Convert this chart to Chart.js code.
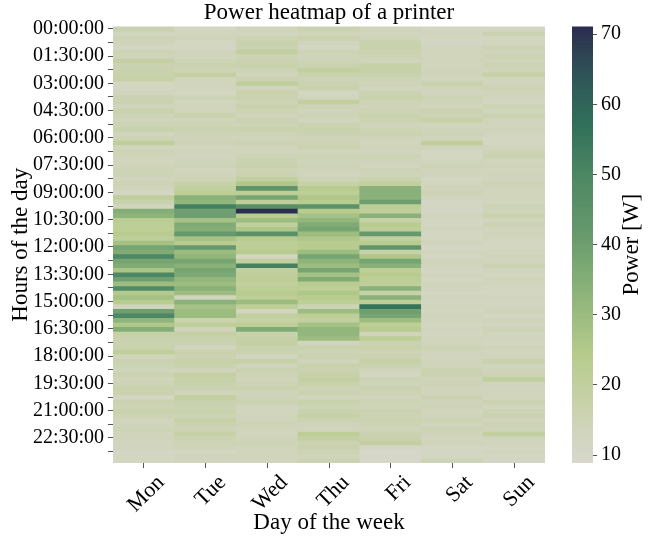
<!DOCTYPE html>
<html>
<head>
<meta charset="utf-8">
<script src="https://cdn.jsdelivr.net/npm/chart.js@4.4.1/dist/chart.umd.min.js"></script>
<style>
  html, body { margin: 0; padding: 0; background: #fff; }
  #wrap { position: relative; width: 648px; height: 540px; }
  canvas { position: absolute; left: 0; top: 0; }
</style>
</head>
<body>
<div id="wrap">
  <canvas id="heat" width="648" height="540"></canvas>
  <canvas id="cbar" width="648" height="540"></canvas>
</div>
<script>
// categories
const days = ["Mon", "Tue", "Wed", "Thu", "Fri", "Sat", "Sun"];
// labels shown on the y axis (one every 6 rows of 15 min)
const timeLabels = ["00:00:00", "01:30:00", "03:00:00", "04:30:00", "06:00:00", "07:30:00",
  "09:00:00", "10:30:00", "12:00:00", "13:30:00", "15:00:00", "16:30:00",
  "18:00:00", "19:30:00", "21:00:00", "22:30:00"];
const colorbarTicks = [10, 20, 30, 40, 50, 60, 70];
const powerMin = 8.86;
const powerMax = 71.1;

// power [W] per 15 min slot, one array per day (96 rows)
const mon = [16,13,15,14,12,15,14,19,16,17, 17,18,12,12,13,16,16,14,17,15,
  14,15,17,13,15,21,13,15,14,13, 14,15,15,13,15,14,12,21,17,13,
  35,33,23,22,22,24,21,28,
  38,36,50,38,36,27,50,40,30,48, 25,28,24,14,40,50,33,26,35,18,
  17,16,17,21,14,16,15,14,16,14, 15,17,16,12,16,15,17,15,13,14,
  15,14,14,13,13,11,12,12];
const tue = [12,13,14,12,11,14,13,15,16,15, 19,14,13,13,12,15,13,14,14,17,
  14,15,16,15,14,15,13,14,13,14, 15,13,14,15,18,20,22,34,32,52,
  40,40,28,36,35,42,28,24,
  42,30,32,38,34,38,37,32,30,34, 30,14,34,28,30,30,16,22,14,19,
  17,16,13,17,16,18,17,14,19,18, 17,16,14,20,17,16,17,15,18,16,
  15,18,16,15,14,12,14,13];
const wed = [14,13,15,17,16,20,15,16,17,15, 14,16,21,14,17,16,15,17,15,14,
  16,15,17,15,14,16,13,14,15,16, 17,15,16,20,26,44,22,38,22,46,
  71,24,30,20,26,46,24,22,
  22,24,12,20,52,20,21,22,20,22, 24,22,30,22,13,20,18,22,36,17,
  18,19,17,16,13,18,14,16,15,14, 15,16,14,15,16,13,13,14,14,15,
  14,13,14,15,13,14,13,13];
const thu = [16,14,17,13,12,15,14,15,16,20, 17,15,16,17,12,13,20,15,14,15,
  13,16,17,16,14,15,16,13,15,14, 15,14,13,15,18,24,22,26,24,45,
  24,28,32,36,38,30,26,24,
  24,30,38,33,30,38,28,36,24,22, 26,24,22,15,30,22,20,28,32,32,
  30,13,17,15,16,14,17,16,18,19, 17,15,16,13,17,15,17,18,16,14,
  13,22,19,16,17,15,14,16];
const fri = [14,13,14,17,17,16,15,14,18,18, 17,15,14,13,16,17,15,14,15,17,
  16,14,15,16,14,13,14,13,15,14, 13,15,14,17,20,34,34,34,40,22,
  21,34,18,24,22,42,20,24,
  44,18,26,38,34,22,24,22,21,34, 18,34,22,56,40,38,30,22,24,14,
  22,16,17,15,16,18,16,14,12,15, 14,16,15,13,15,14,16,15,16,15,
  14,16,17,19,11,10,10,10];
const sat = [12,13,12,11,13,14,13,14,13,14, 14,13,17,14,13,15,14,13,16,15,
  18,13,14,15,14,21,14,12,12,13, 15,14,14,12,13,14,15,13,11,12,
  11,13,12,11,13,12,12,14,
  11,13,12,14,13,11,13,12,14,13, 12,13,12,13,12,14,13,12,13,12,
  14,13,15,14,13,14,14,16,16,14, 15,13,14,16,14,15,13,14,15,13,
  15,14,13,14,12,11,12,15];
const sun = [12,16,12,13,15,14,15,14,15,14, 18,13,14,15,14,13,12,15,13,16,
  14,13,14,13,12,12,13,15,16,13, 14,13,14,13,15,14,13,14,13,15,
  14,17,13,15,13,14,13,12,
  12,13,14,13,16,13,12,14,13,12, 12,13,12,13,14,12,14,13,15,13,
  13,12,14,13,14,17,13,14,15,20, 14,13,14,13,16,13,15,16,14,15,
  14,20,14,13,12,13,12,11];
const week = [mon, tue, wed, thu, fri, sat, sun];

//* colour map (light grey -> yellow green -> green -> navy)
const cmapStops = [
  [8.86, "#d8d8cc"], [14, "#cfd4ba"], [19, "#c4d0a3"], [24, "#b8cc8f"],
  [30, "#9cbc80"], [36, "#80ab75"], [42, "#66986d"], [50, "#4d8763"],
  [57, "#32705a"], [63, "#2f5a58"], [67, "#2f4554"], [71.1, "#2c2c4f"],
];
function hexRgb(h) {
  return [1, 3, 5].map((i) => parseInt(h.substr(i, 2), 16));
}
function colorFor(v) {
  if (v <= cmapStops[0][0]) return cmapStops[0][1];
  for (let i = 1; i < cmapStops.length; i++) {
    if (v <= cmapStops[i][0]) {
      const a = cmapStops[i - 1], b = cmapStops[i];
      const t = (v - a[0]) / (b[0] - a[0]);
      const ca = hexRgb(a[1]), cb = hexRgb(b[1]);
      const c = ca.map((x, k) => Math.round(x + (cb[k] - x) * t));
      return `rgb(${c[0]},${c[1]},${c[2]})`;
    }
  }
  return cmapStops[cmapStops.length - 1][1];
}

const serif = "'Liberation Serif', 'DejaVu Serif', serif";
const rowCount = mon.length;

//* one stacked dataset per time row, coloured by the power of each day
const heatDatasets = [];
for (let r = 0; r < rowCount; r++) {
  heatDatasets.push({
    data: days.map(() => 1),
    backgroundColor: week.map((d) => colorFor(d[r])),
    borderWidth: 0,
    inflateAmount: 0.5,
    categoryPercentage: 1,
    barPercentage: 1,
  });
}

// ticks every 3 rows, at the row centre
const yTickRows = [];
for (let r = 0; r < rowCount; r += 3) yTickRows.push(r + 0.5);

new Chart(document.getElementById("heat"), {
  type: "bar",
  data: { labels: days, datasets: heatDatasets },
  options: {
    responsive: false,
    animation: false,
    events: [],
    layout: { padding: { left: 0, right: 103, top: 0, bottom: 0 } },
    plugins: {
      legend: { display: false },
      tooltip: { enabled: false },
      title: {
        display: true,
        text: "Power heatmap of a printer",
        fullSize: false,
        color: "#000",
        font: { family: serif, size: 23, weight: "normal", lineHeight: 1.15 },
        padding: { top: 0, bottom: 0 },
      },
    },
    scales: {
      x: {
        stacked: true,
        border: { display: false },
        grid: { drawOnChartArea: false, offset: false, tickLength: 5, tickColor: "#555", tickWidth: 1 },
        ticks: {
          color: "#000",
          font: { family: serif, size: 22 },
          minRotation: 45,
          maxRotation: 45,
          labelOffset: 17,
          padding: 2,
        },
        title: {
          display: true,
          text: "Day of the week",
          color: "#000",
          font: { family: serif, size: 23 },
          padding: { top: 0, bottom: 3 },
        },
        afterFit: (s) => { s.height = 77; },
      },
      y: {
        stacked: true,
        reverse: true,
        min: 0,
        max: rowCount,
        border: { display: false },
        grid: { drawOnChartArea: false, tickLength: 5, tickColor: "#555", tickWidth: 1 },
        afterBuildTicks: (s) => { s.ticks = yTickRows.map((v) => ({ value: v })); },
        ticks: {
          autoSkip: false,
          color: "#000",
          padding: 4,
          font: { family: serif, size: 20 },
          callback: (v, i) => (i % 2 === 0 ? timeLabels[i / 2] : ""),
        },
        title: {
          display: true,
          text: "Hours of the day",
          color: "#000",
          font: { family: serif, size: 23 },
          padding: { top: 7, bottom: 0 },
        },
        afterFit: (s) => { s.width = 113; },
      },
    },
  },
});

//* colour bar
const cbStep = 0.25;
const cbSteps = [];
for (let v = powerMin; v < powerMax; v += cbStep) cbSteps.push(v);

const cbTitle = {
  id: "cbTitle",
  afterDraw(chart) {
    const { ctx, chartArea } = chart;
    ctx.save();
    ctx.translate(632, (chartArea.top + chartArea.bottom) / 2);
    ctx.rotate(-Math.PI / 2);
    ctx.font = "23px " + serif;
    ctx.fillStyle = "#000";
    ctx.textAlign = "center";
    ctx.textBaseline = "middle";
    ctx.fillText("Power [W]", 0, 0);
    ctx.restore();
  },
};

new Chart(document.getElementById("cbar"), {
  type: "bar",
  data: {
    labels: ["cb"],
    datasets: [{
      data: cbSteps.map((lo) => ({ x: "cb", y: [lo, Math.min(lo + cbStep, powerMax)] })),
      backgroundColor: cbSteps.map((lo) => colorFor(lo + cbStep / 2)),
      borderWidth: 0,
      inflateAmount: 0.4,
      categoryPercentage: 1,
      barPercentage: 1,
    }],
  },
  options: {
    responsive: false,
    animation: false,
    events: [],
    layout: { padding: { left: 572, right: 0, top: 26.45, bottom: 77 } },
    plugins: { legend: { display: false }, tooltip: { enabled: false } },
    scales: {
      x: { display: false },
      y: {
        position: "right",
        min: powerMin,
        max: powerMax,
        border: { display: false },
        grid: { drawOnChartArea: false, tickLength: 4, tickColor: "#555" },
        afterBuildTicks: (s) => { s.ticks = colorbarTicks.map((v) => ({ value: v })); },
        ticks: { color: "#000", padding: 4, font: { family: serif, size: 20 } },
        afterFit: (s) => { s.width = 55; },
      },
    },
  },
  plugins: [cbTitle],
});
</script>
</body>
</html>
